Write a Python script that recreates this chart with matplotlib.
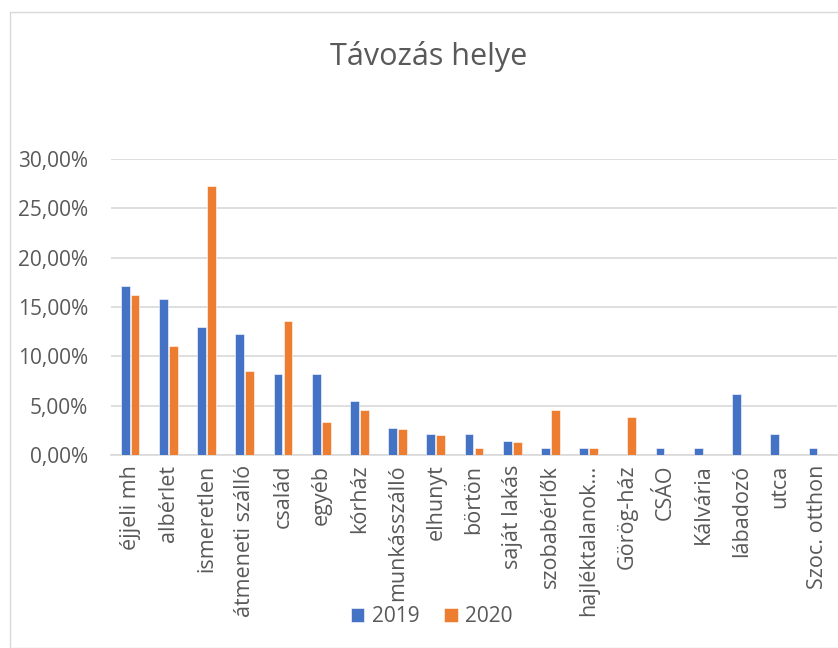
import numpy as np
import matplotlib.pyplot as plt
from matplotlib.patches import Rectangle
from matplotlib.ticker import FuncFormatter

plt.rcParams["font.family"] = ["Open Sans", "DejaVu Sans"]

# data
categories = ["éjjeli mh", "albérlet", "ismeretlen", "átmeneti szálló", "család",
              "egyéb", "kórház", "munkásszálló", "elhunyt", "börtön",
              "saját lakás", "szobabérlők", "hajléktalanok…", "Görög-ház", "CSÁO",
              "Kálvária", "lábadozó", "utca", "Szoc. otthon"]
values_2019 = [17.1, 15.85, 13.0, 12.3, 8.2, 8.2, 5.5, 2.75, 2.1, 2.1,
               1.4, 0.7, 0.7, 0.0, 0.7, 0.7, 6.2, 2.1, 0.7]
values_2020 = [16.25, 11.05, 27.3, 8.5, 13.6, 3.3, 4.6, 2.65, 2.0, 0.7,
               1.3, 4.6, 0.7, 3.9, 0.0, 0.0, 0.0, 0.0, 0.0]

blue = "#4472C4"
orange = "#ED7D31"
grey_text = "#595959"

fig = plt.figure(figsize=(8.38, 6.48), dpi=100)
fig.patches.append(Rectangle((10/838, 0), 1, 1 - 12/648, transform=fig.transFigure,
                             fill=False, edgecolor="#D9D9D9", linewidth=1))

ax = fig.add_axes([111/838, 1 - 455/648, 726/838, (455 - 159)/648])

x = np.arange(len(categories))
w = 0.23
ax.bar(x - 0.13, np.array(values_2019) / 100, width=w, color=blue, label="2019",
       edgecolor="white", linewidth=0.4, zorder=3)
ax.bar(x + 0.13, np.array(values_2020) / 100, width=w, color=orange, label="2020",
       edgecolor="white", linewidth=0.4, zorder=3)

ax.set_xlim(-0.5, len(categories) - 0.5)
ax.set_ylim(0, 0.30)
ax.set_yticks(np.arange(0, 0.31, 0.05))
ax.yaxis.set_major_formatter(FuncFormatter(lambda v, p: f"{v*100:.2f}%".replace(".", ",")))
ax.grid(axis="y", color="#D9D9D9", linewidth=1.2, zorder=0)
for s in ["top", "right", "left"]:
    ax.spines[s].set_visible(False)
ax.spines["bottom"].set_color("#D9D9D9")
ax.spines["bottom"].set_linewidth(1.2)

ax.set_xticks(x)
ax.set_xticklabels(categories, rotation=90, ha="center", va="top")
ax.tick_params(axis="x", length=0, pad=7, labelsize=15.5, labelcolor=grey_text)
ax.tick_params(axis="y", length=0, pad=16.5, labelsize=15, labelcolor=grey_text)

fig.text(0.512, 1 - 57/648, "Távozás helye", ha="center", va="center",
         fontsize=22, color=grey_text)

fig.legend(loc="center", bbox_to_anchor=(0.515, 0.048), ncol=2, frameon=False,
           fontsize=15, labelcolor=grey_text, handlelength=0.65, handleheight=0.65,
           columnspacing=1.2, handletextpad=0.35)

plt.savefig("out.png", dpi=100)
